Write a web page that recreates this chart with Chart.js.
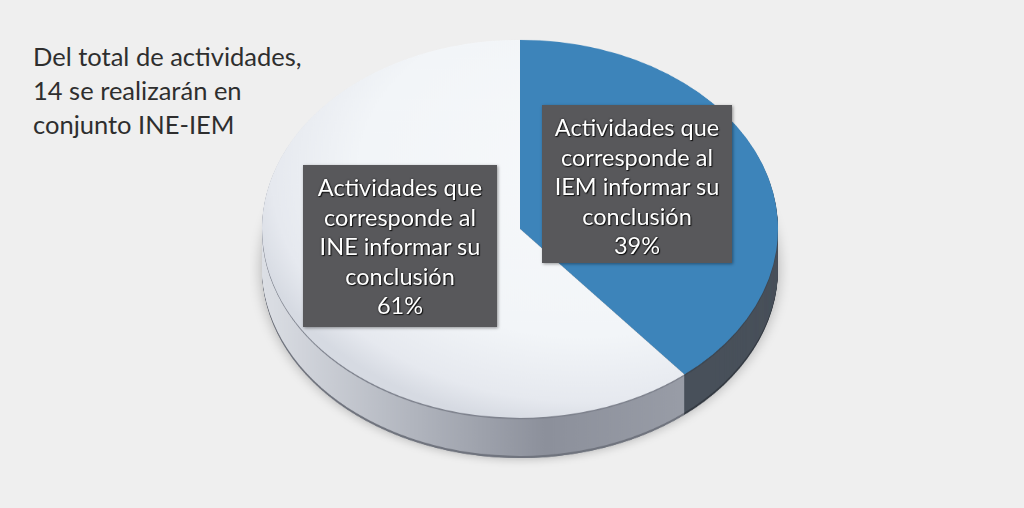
<!DOCTYPE html>
<html>
<head>
<meta charset="utf-8">
<script src="https://cdn.jsdelivr.net/npm/chart.js@4.4.1/dist/chart.umd.min.js"></script>
<style>
  body { margin: 0; width: 1024px; height: 508px; background: #efefef; overflow: hidden; position: relative; font-family: Lato, "Open Sans", sans-serif; }
  #title { position: absolute; left: 33px; top: 39px; font-size: 25.5px; line-height: 34px; color: #2e2e2e; }
  #pieWrap { position: absolute; left: 250px; top: 31px; width: 540px; height: 680px; transform: scaleY(0.7326); transform-origin: 0 0; }
  .box { position: absolute; background: #58585b; color: #fff; text-align: center; font-size: 23.5px; line-height: 29.5px;
         text-shadow: 1px 1px 1px #111, 0 0 2px #222; box-shadow: 1px 1px 3px rgba(0,0,0,0.4); box-sizing: border-box; padding-top: 8px; }
</style>
</head>
<body>
<div id="title">Del total de actividades,<br>14 se realizarán en<br>conjunto INE-IEM</div>
<div id="pieWrap"><canvas id="pie3d"></canvas></div>
<div class="box" id="lab0" style="left:542px; top:105px; width:190px; height:158px;"></div>
<div class="box" id="lab1" style="left:303px; top:165px; width:194px; height:162px;"></div>
<script>
var categories = [
  ['Actividades que', 'corresponde al', 'IEM informar su', 'conclusión'],
  ['Actividades que', 'corresponde al', 'INE informar su', 'conclusión']
];
var values = [39, 61];
var topColors = ['#3d84ba', '#f3f6f9'];
var sideColors = ['#48505a', null];

var total = values.reduce(function (a, b) { return a + b; }, 0);
categories.forEach(function (lines, i) {
  var pct = Math.round(values[i] / total * 100) + '%';
  document.getElementById('lab' + i).innerHTML = lines.concat([pct]).join('<br>');
});

// draws the thickness of the pie under the top face
var depth3d = {
  id: 'depth3d',
  beforeDatasetsDraw: function (chart) {
    var ctx = chart.ctx;
    var arcs = chart.getDatasetMeta(0).data;
    var depth = 55;
    var a = arcs[0];
    var grad = ctx.createLinearGradient(a.x - a.outerRadius, 0, a.x + a.outerRadius, 0);
    grad.addColorStop(0, '#dcdfe5');
    grad.addColorStop(0.3, '#b0b4bd');
    grad.addColorStop(0.55, '#8c909b');
    grad.addColorStop(0.85, '#9a9ea8');
    grad.addColorStop(1, '#a5a9b1');
    ctx.save();
    ctx.shadowColor = 'rgba(0,0,0,0.28)';
    ctx.shadowBlur = 14;
    ctx.beginPath();
    ctx.arc(a.x, a.y + depth, a.outerRadius, 0, Math.PI * 2);
    ctx.fillStyle = '#7c808a';
    ctx.fill();
    ctx.restore();
    for (var d = depth; d > 0; d -= 1) {
      arcs.forEach(function (arc, i) {
        ctx.beginPath();
        ctx.moveTo(arc.x, arc.y + d);
        ctx.arc(arc.x, arc.y + d, arc.outerRadius, arc.startAngle, arc.endAngle);
        ctx.closePath();
        ctx.fillStyle = sideColors[i] || grad;
        if (d > depth - 3) ctx.fillStyle = i === 0 ? '#343a42' : '#70747e';
        if (d < 3) ctx.fillStyle = i === 0 ? '#3e4650' : '#7e828d';
        ctx.fill();
      });
    }
  }
};

function faceColor(c) {
  if (c.dataIndex === 0) return topColors[0];
  var area = c.chart.chartArea;
  if (!area) return topColors[1];
  var cx = (area.left + area.right) / 2, cy = (area.top + area.bottom) / 2;
  var r = (area.right - area.left) / 2;
  var g = c.chart.ctx.createRadialGradient(cx + r * 0.25, cy - r * 0.3, 0, cx + r * 0.25, cy - r * 0.3, r * 1.35);
  g.addColorStop(0, '#f7f9fb');
  g.addColorStop(0.65, '#f2f5f8');
  g.addColorStop(0.9, '#e6e9ef');
  g.addColorStop(1, '#d6dae2');
  return g;
}

new Chart(document.getElementById('pie3d'), {
  type: 'pie',
  data: {
    labels: categories,
    datasets: [{
      data: values,
      backgroundColor: faceColor,
      borderWidth: 0
    }]
  },
  options: {
    responsive: true,
    maintainAspectRatio: false,
    animation: false,
    layout: { padding: { top: 12, left: 12, right: 12, bottom: 152 } },
    plugins: { legend: { display: false }, tooltip: { enabled: false } }
  },
  plugins: [depth3d]
});
</script>
</body>
</html>
